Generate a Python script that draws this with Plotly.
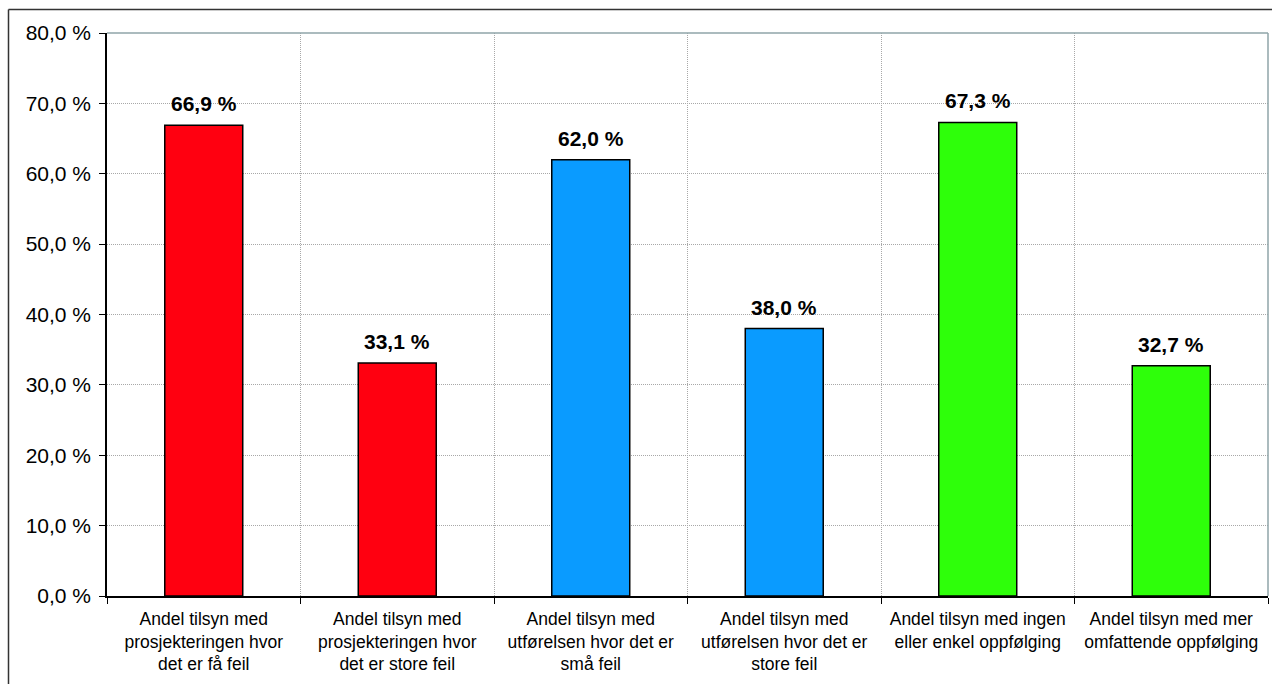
import plotly.graph_objects as go

# Kategorier, verdier (prosent) og farger
categories = [
    "Andel tilsyn med<br>prosjekteringen hvor<br>det er få feil",
    "Andel tilsyn med<br>prosjekteringen hvor<br>det er store feil",
    "Andel tilsyn med<br>utførelsen hvor det er<br>små feil",
    "Andel tilsyn med<br>utførelsen hvor det er<br>store feil",
    "Andel tilsyn med ingen<br>eller enkel oppfølging",
    "Andel tilsyn med mer<br>omfattende oppfølging",
]
values = [66.9, 33.1, 62.0, 38.0, 67.3, 32.7]
bar_colors = ["#FF0010", "#FF0010", "#0A9BFF", "#0A9BFF", "#2EFF0A", "#2EFF0A"]

FONT = "Liberation Sans, Arial, sans-serif"
W, H = 1272, 684
L, R, T, B = 107, 4, 33, 88

fig = go.Figure(
    go.Bar(
        x=categories,
        y=values,
        marker=dict(color=bar_colors, line=dict(color="#000000", width=1.5)),
        hoverinfo="skip",
    )
)

# Verdietiketter over søylene
for c, v in zip(categories, values):
    fig.add_annotation(
        x=c, y=v, text=f"{v:.1f} %".replace(".", ","),
        showarrow=False, yanchor="bottom", yshift=8,
        font=dict(family=FONT, size=21, color="#000000", weight="bold"),
    )

# Ramme rundt diagrammet (øvre og venstre kant) og plottområdets kant
pw, ph = W - L - R, H - T - B
bx = (8.5 - L) / pw
by = 1 + (T - 9.5) / ph
fig.add_shape(type="line", xref="paper", yref="paper", x0=bx, x1=bx, y0=-0.5, y1=by,
              line=dict(color="#333333", width=1.5))
fig.add_shape(type="line", xref="paper", yref="paper", x0=bx, x1=1.2, y0=by, y1=by,
              line=dict(color="#333333", width=1.5))
fig.add_shape(type="line", xref="paper", yref="paper", x0=0, x1=1, y0=1, y1=1,
              line=dict(color="#8FA5A8", width=1.5))
fig.add_shape(type="line", xref="paper", yref="paper", x0=1, x1=1, y0=0, y1=1,
              line=dict(color="#8FA5A8", width=1.5))

grid = dict(showgrid=True, gridcolor="#A8A8A8", griddash="1px,1px", gridwidth=1)

fig.update_layout(
    width=W, height=H,
    margin=dict(l=L, r=R, t=T, b=B, pad=0),
    paper_bgcolor="#FFFFFF", plot_bgcolor="#FFFFFF",
    bargap=0.597,
    separators=", ",
    showlegend=False,
    font=dict(family=FONT, color="#000000"),
    xaxis=dict(
        type="category",
        tickson="boundaries",
        ticks="outside", ticklen=6, tickcolor="#000000", tickwidth=1,
        ticklabelstandoff=6,
        showline=True, linecolor="#000000", linewidth=1.5,
        tickfont=dict(family=FONT, size=17.5, color="#000000"),
        fixedrange=True,
        **grid,
    ),
    yaxis=dict(
        range=[0, 80], dtick=10, tick0=0,
        tickformat=".1f", ticksuffix=" %",
        ticks="outside", ticklen=6, tickcolor="#000000", tickwidth=1,
        ticklabelstandoff=4,
        showline=True, linecolor="#000000", linewidth=1.5,
        zeroline=False,
        tickfont=dict(family=FONT, size=21, color="#000000"),
        fixedrange=True,
        **grid,
    ),
)

fig.write_html("out.html")
